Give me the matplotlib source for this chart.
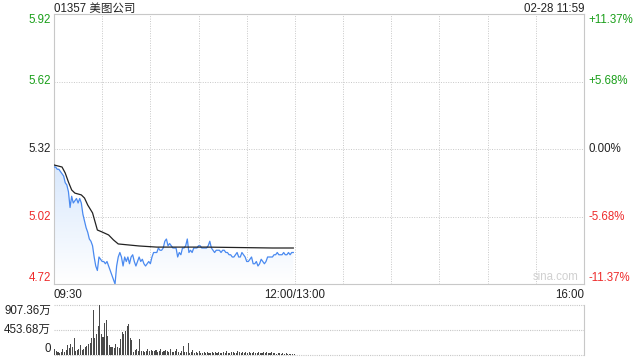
import numpy as np
import matplotlib.pyplot as plt
from matplotlib import transforms

plt.rcParams['font.family'] = ['Liberation Sans', 'Noto Sans CJK SC', 'DejaVu Sans']

title = "01357 美图公司"
stamp = "02-28 11:59"
prev_close = 5.32

# price ticks (left) and change ticks (right)
price_ticks = [5.92, 5.62, 5.32, 5.02, 4.72]
pct_labels = ["+11.37%", "+5.68%", "0.00%", "-5.68%", "-11.37%"]
tick_colors = ["#1a9f1a", "#1a9f1a", "#222222", "#ee2b2b", "#ee2b2b"]

# time axis: minutes from 09:30, lunch break collapsed (12:00 == 13:00)
session_minutes = 330
time_labels = ["09:30", "12:00/13:00", "16:00"]
time_label_pos = [0, 150, 330]

# one price per minute, 09:30 .. 11:59
price = [5.24, 5.24, 5.23, 5.23, 5.22, 5.21, 5.20, 5.17, 5.16, 5.13,
         5.06, 5.11, 5.08, 5.09, 5.10, 5.08, 5.10, 5.08, 5.03, 5.00,
         4.97, 4.95, 4.92, 4.91, 4.89, 4.84, 4.80, 4.78, 4.84, 4.83,
         4.82, 4.82, 4.81, 4.82, 4.80, 4.78, 4.76, 4.74, 4.72, 4.80,
         4.84, 4.86, 4.84, 4.80, 4.84, 4.82, 4.84, 4.81, 4.84, 4.85,
         4.82, 4.80, 4.82, 4.84, 4.82, 4.83, 4.81, 4.80, 4.81, 4.82,
         4.81, 4.84, 4.86, 4.86, 4.86, 4.88, 4.87, 4.87, 4.88, 4.91,
         4.92, 4.89, 4.90, 4.89, 4.88, 4.88, 4.88, 4.84, 4.86, 4.85,
         4.88, 4.88, 4.89, 4.92, 4.86, 4.87, 4.86, 4.88, 4.88, 4.88,
         4.89, 4.89, 4.88, 4.88, 4.88, 4.88, 4.89, 4.91, 4.88, 4.87,
         4.86, 4.87, 4.87, 4.87, 4.86, 4.87, 4.87, 4.86, 4.86, 4.85,
         4.85, 4.84, 4.84, 4.85, 4.86, 4.84, 4.84, 4.86, 4.85, 4.84,
         4.82, 4.82, 4.83, 4.84, 4.81, 4.81, 4.82, 4.80, 4.81, 4.83,
         4.82, 4.81, 4.82, 4.84, 4.84, 4.84, 4.84, 4.85, 4.85, 4.86,
         4.85, 4.85, 4.85, 4.86, 4.85, 4.85, 4.86, 4.85, 4.86, 4.86]

# average price line, read at its bends
avg_minutes = [0, 5, 7, 9, 11, 13, 17, 19, 21, 24, 27, 30, 34, 37, 40, 53, 64, 95, 136, 149]
avg_price = [5.249, 5.240, 5.213, 5.173, 5.138, 5.124, 5.116, 5.102, 5.071, 5.036,
             4.960, 4.951, 4.938, 4.916, 4.898, 4.889, 4.884, 4.884, 4.880, 4.880]

# volume per minute, in 万
volume = [110, 70, 50, 40, 60, 100, 60, 90, 180, 130,
          200, 150, 310, 80, 90, 100, 180, 90, 100, 150,
          170, 200, 210, 310, 810, 300, 380, 530, 900, 380,
          330, 580, 640, 350, 180, 140, 140, 130, 200, 140,
          130, 290, 420, 380, 430, 520, 560, 300, 270, 50,
          90, 100, 70, 290, 80, 80, 60, 80, 100, 70,
          90, 80, 70, 90, 60, 80, 100, 60, 70, 90,
          80, 60, 110, 50, 60, 80, 100, 60, 40, 70,
          160, 50, 60, 220, 40, 50, 90, 30, 60, 40,
          70, 30, 40, 50, 30, 60, 40, 30, 50, 40,
          60, 30, 50, 40, 30, 50, 40, 70, 30, 40,
          60, 50, 40, 30, 70, 50, 40, 60, 30, 50,
          40, 60, 30, 40, 50, 30, 40, 60, 30, 40,
          50, 30, 60, 40, 30, 50, 40, 30, 20, 40,
          30, 20, 30, 20, 30, 20, 20, 20, 10, 15]
vol_ticks = [907.36, 453.68, 0]
vol_labels = ["907.36万", "453.68万", "0"]

minutes = np.arange(len(price))
grid_c = "#c8c8c8"
fs = 8.3

fig = plt.figure(figsize=(6.4, 3.6), dpi=100)
ax = fig.add_axes([54/640, 1-284/360, 530/640, 270/360])
axv = fig.add_axes([54/640, 1-355/360, 530/640, 50/360])

# ---- price panel
ax.set_xlim(0, session_minutes)
ax.set_ylim(price_ticks[-1], price_ticks[0])
for x in range(30, session_minutes, 30):
    ax.axvline(x, color=grid_c, lw=0.7, ls=(0, (1, 1.5)), zorder=0)
for y in price_ticks[1:-1]:
    ax.axhline(y, color=grid_c, lw=0.7, ls=(0, (1, 1.5)), zorder=0)

# gradient fill under price line
grad = np.linspace(0, 1, 100).reshape(-1, 1)
top_c = np.array([0.85, 0.91, 0.99])
img = np.ones((100, 1, 3)) * (1 - grad[..., None]) + top_c * grad[..., None]
poly = ax.fill_between(minutes, price, price_ticks[-1], color="none", lw=0)
im = ax.imshow(img, aspect="auto", origin="lower",
               extent=[0, minutes[-1], price_ticks[-1], max(price)], zorder=1)
im.set_clip_path(poly.get_paths()[0], transform=ax.transData)

ax.plot(minutes, price, color="#4a8af0", lw=0.9, zorder=3)
ax.plot(avg_minutes, avg_price, color="#222222", lw=0.9, zorder=4)

ax.set_xticks([]); ax.set_yticks([])
for s in ax.spines.values():
    s.set_color(grid_c); s.set_linewidth(0.8)

tl = transforms.blended_transform_factory(ax.transAxes, ax.transData)
n = len(price_ticks)
for k, (v, lab, c) in enumerate(zip(price_ticks, pct_labels, tick_colors)):
    va = "top" if k == 0 else ("bottom" if k == n - 1 else "center")
    ax.text(-0.006, v, f"{v:.2f}", transform=tl, ha="right", va=va, color=c, fontsize=fs)
    ax.text(1.009, v, lab, transform=tl, ha="left", va=va, color=c, fontsize=fs)

for lab, pos, ha in zip(time_labels, time_label_pos, ["left", "center", "right"]):
    ax.text(pos, -0.018, lab, transform=transforms.blended_transform_factory(ax.transData, ax.transAxes),
            ha=ha, va="top", fontsize=fs, color="#222222")

ax.text(0, 1.008, title, transform=ax.transAxes, ha="left", va="baseline", fontsize=fs, color="#222222")
ax.text(1, 1.008, stamp, transform=ax.transAxes, ha="right", va="baseline", fontsize=fs, color="#222222")
ax.text(0.99, 0.005, "sina.com", transform=ax.transAxes, ha="right", va="bottom",
        fontsize=fs, color="#d0d0d0")

# ---- volume panel
axv.set_xlim(0, session_minutes)
axv.set_ylim(0, vol_ticks[0])
axv.bar(minutes + 0.5, volume, width=0.65, color="#4a4a4a", zorder=2)
for y in vol_ticks:
    axv.axhline(y, color=grid_c, lw=0.8, ls=(0, (1, 1)), zorder=0, clip_on=False)
axv.set_xticks([]); axv.set_yticks([])
for side in ["top", "bottom", "left"]:
    axv.spines[side].set_visible(False)
axv.spines["right"].set_color(grid_c)
tv = transforms.blended_transform_factory(axv.transAxes, axv.transData)
for k, (v, lab) in enumerate(zip(vol_ticks, vol_labels)):
    va = "top" if k == 0 else ("bottom" if k == len(vol_ticks) - 1 else "center")
    axv.text(-0.006, v, lab, transform=tv, ha="right", va=va, fontsize=fs, color="#222222")

fig.savefig("out.png", dpi=100)
